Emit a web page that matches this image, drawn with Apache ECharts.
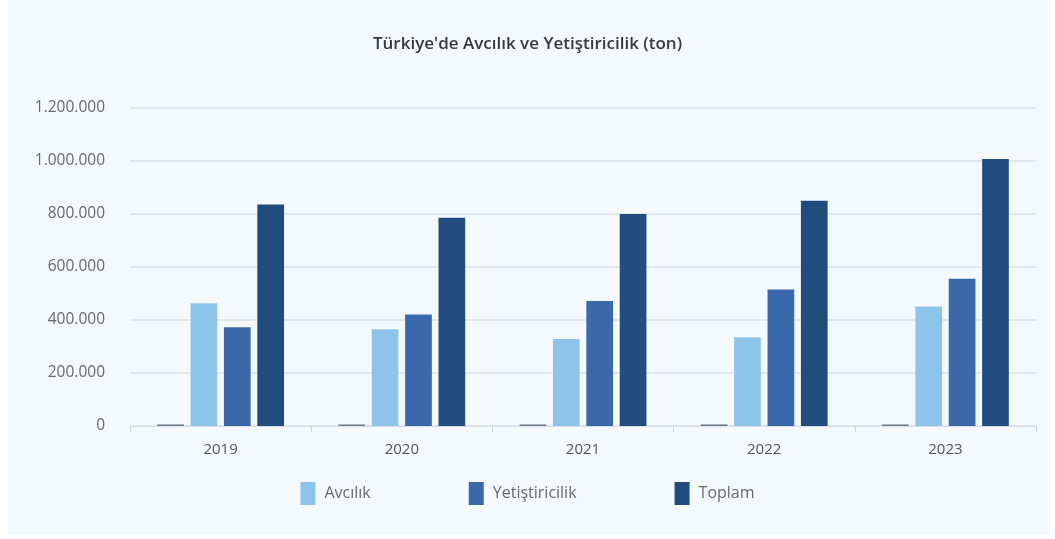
<!DOCTYPE html>
<html>
<head>
<meta charset="utf-8">
<script src="https://cdn.jsdelivr.net/npm/echarts@6/dist/echarts.min.js"></script>
<style>
html,body{margin:0;padding:0;background:#ffffff;}
#bg{position:absolute;left:8px;top:0;width:1042px;height:535px;background:#f3f9fd;}
#chart{position:absolute;left:0;top:0;width:1055px;height:539px;}
</style>
</head>
<body>
<div id="bg"></div>
<div id="chart"></div>
<script>
var years = ['2019', '2020', '2021', '2022', '2023'];
var yilSeries = [6000, 6000, 6000, 6000, 6000];
var avcilik = [463000, 365000, 328000, 335000, 451000];
var yetistiricilik = [373000, 421000, 472000, 515000, 556000];
var toplam = [836000, 786000, 800000, 850000, 1008000];
var yTicks = [0, 200000, 400000, 600000, 800000, 1000000, 1200000];

function fmt(v) {
  return String(v).replace(/\B(?=(\d{3})+(?!\d))/g, '.');
}

var chart = echarts.init(document.getElementById('chart'), null, {renderer: 'canvas'});
var font = 'Open Sans';
chart.setOption({
  backgroundColor: 'transparent',
  animation: false,
  title: {
    text: "Türkiye'de Avcılık ve Yetiştiricilik (ton)",
    left: 'center',
    top: 31,
    textStyle: {fontFamily: font, fontSize: 17, fontWeight: 600, color: '#3a3a3a'}
  },
  legend: {
    data: ['Avcılık', 'Yetiştiricilik', 'Toplam'],
    bottom: 29,
    left: 'center',
    itemWidth: 15,
    itemHeight: 23,
    itemGap: 98,
    icon: 'rect',
    textStyle: {fontFamily: font, fontSize: 16, color: '#6a6a6a', padding: [0, 0, 0, 4]}
  },
  grid: {left: 130, right: 19, top: 108, bottom: 113, containLabel: false},
  xAxis: {
    type: 'category',
    data: years,
    axisLine: {lineStyle: {color: '#d9dde2', width: 1}},
    axisTick: {show: true, length: 6, lineStyle: {color: '#d0d4d8'}},
    axisLabel: {fontFamily: font, fontSize: 15, color: '#555', margin: 16}
  },
  yAxis: {
    type: 'value',
    min: yTicks[0],
    max: yTicks[yTicks.length - 1],
    interval: 200000,
    axisLine: {show: false},
    axisTick: {show: false},
    splitLine: {lineStyle: {color: '#dcdfe3', width: 1.5}},
    axisLabel: {fontFamily: font, fontSize: 15.5, color: '#6a6a6a', margin: 25, formatter: fmt}
  },
  series: [
    {name: 'Yıl', type: 'bar', data: yilSeries, barCategoryGap: '30%', barGap: '25%',
     itemStyle: {color: '#6f7f92'}},
    {name: 'Avcılık', type: 'bar', data: avcilik, barCategoryGap: '30%', barGap: '25%',
     itemStyle: {color: '#8fc4ea'}},
    {name: 'Yetiştiricilik', type: 'bar', data: yetistiricilik, barCategoryGap: '30%', barGap: '25%',
     itemStyle: {color: '#3b68aa'}},
    {name: 'Toplam', type: 'bar', data: toplam, barCategoryGap: '30%', barGap: '25%',
     itemStyle: {color: '#234c7e'}}
  ]
});
</script>
</body>
</html>
